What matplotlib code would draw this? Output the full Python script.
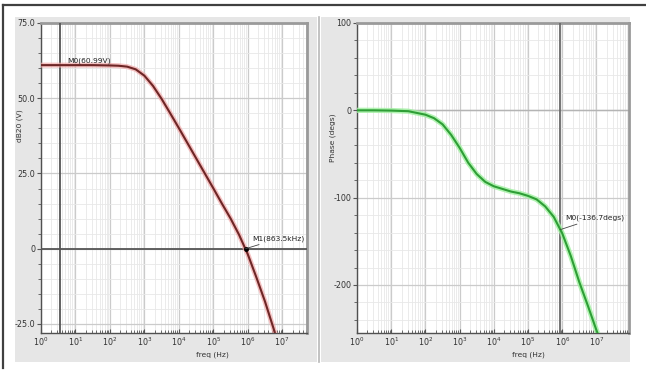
import numpy as np
import matplotlib
matplotlib.use("Agg")
import matplotlib.pyplot as plt
from matplotlib.patches import Rectangle
from matplotlib.lines import Line2D
from matplotlib.ticker import LogLocator, FixedLocator, FixedFormatter, NullFormatter

# --- data ---
gain_freq = [1, 3.16, 10, 31.6, 100, 178, 316, 562, 1000, 1780, 3160, 5620,
             1e4, 1.78e4, 3.16e4, 5.62e4, 1e5, 1.78e5, 3.16e5, 5.62e5,
             1e6, 1.78e6, 3.16e6, 5.62e6, 7.08e6]
gain_db = [61.0, 61.0, 61.0, 61.0, 60.9, 60.8, 60.5, 59.6, 57.5, 54.1, 49.8, 45.0,
           40.1, 35.1, 30.1, 25.1, 20.1, 15.0, 10.1, 4.6,
           -1.8, -9.5, -17.5, -26.5, -30.5]

phase_freq = [1, 3.16, 10, 31.6, 100, 178, 316, 562, 1000, 1780, 3160, 5620,
              1e4, 1.78e4, 3.16e4, 5.62e4, 1e5, 1.78e5, 3.16e5, 5.62e5,
              1e6, 1.78e6, 3.16e6, 5.62e6, 1e7, 1.26e7]
phase_deg = [0, 0, -0.3, -1, -5, -9, -16, -28, -43, -60, -73, -82,
             -87, -90, -93, -95, -98, -102, -110, -122,
             -141, -167, -197, -224, -252, -262]

m0_freq = 3.6
m0_gain = 60.99
m1_freq = 863.5e3
m1_gain = 0.0
pm_phase = -136.7

gain_ticks = [75, 50, 25, 0, -25]
gain_labels = ["75.0", "50.0", "25.0", "0", "-25.0"]
phase_ticks = [100, 0, -100, -200]
phase_labels = ["100", "0", "-100", "-200"]

W, H = 646, 374
fig = plt.figure(figsize=(W / 100, H / 100), dpi=100)
fig.patch.set_facecolor("white")


def px(x0, y0, x1, y1):
    # pixel box -> figure fraction [left, bottom, width, height]
    return [x0 / W, 1 - y1 / H, (x1 - x0) / W, (y1 - y0) / H]


# gray panels and frame (behind the axes)
for box in (px(15, 17, 317, 362), px(321, 17, 630, 362)):
    fig.patches.append(Rectangle((box[0], box[1]), box[2], box[3],
                                 transform=fig.transFigure, facecolor="#e6e6e6",
                                 edgecolor="none", zorder=-5))
fig.lines.append(Line2D([319 / W, 319 / W], [1 - 17 / H, 1 - 362 / H],
                        transform=fig.transFigure, color="#b8b8b8", lw=1.2, zorder=-4))
fig.lines.append(Line2D([3 / W, 1.0], [1 - 5 / H, 1 - 5 / H],
                        transform=fig.transFigure, color="#404040", lw=1.6, zorder=-4))
fig.lines.append(Line2D([3 / W, 3 / W], [1 - 5 / H, 1 - 368 / H],
                        transform=fig.transFigure, color="#404040", lw=1.6, zorder=-4))


def style_axes(ax, xmax, ticks, labels, minor_step):
    ax.set_facecolor("white")
    ax.set_xscale("log")
    ax.set_xlim(1, xmax)
    ax.xaxis.set_major_locator(LogLocator(base=10, numticks=20))
    ax.xaxis.set_minor_locator(LogLocator(base=10, subs=np.arange(2, 10), numticks=20))
    ax.xaxis.set_minor_formatter(NullFormatter())
    ax.yaxis.set_major_locator(FixedLocator(ticks))
    ax.yaxis.set_major_formatter(FixedFormatter(labels))
    ax.yaxis.set_minor_locator(matplotlib.ticker.MultipleLocator(minor_step))
    ax.grid(which="major", color="#cbcbcb", lw=0.9)
    ax.grid(which="minor", color="#e8e8e8", lw=0.6)
    ax.set_axisbelow(True)
    ax.tick_params(axis="x", which="both", direction="in", colors="#555555",
                   labelcolor="#333333", labelsize=5.8, pad=2)
    ax.tick_params(axis="x", which="major", length=3)
    ax.tick_params(axis="x", which="minor", length=2)
    ax.tick_params(axis="y", which="both", direction="out", colors="#555555",
                   labelcolor="#333333", labelsize=5.8, pad=1)
    ax.tick_params(axis="y", which="major", length=3)
    ax.tick_params(axis="y", which="minor", length=2)
    for s in ("top", "right"):
        ax.spines[s].set_color("#9a9a9a")
        ax.spines[s].set_linewidth(2)
    for s in ("left", "bottom"):
        ax.spines[s].set_color("#505050")
        ax.spines[s].set_linewidth(1)


# left: magnitude
ax1 = fig.add_axes(px(41, 23, 307, 333))
style_axes(ax1, 10 ** 7.72, gain_ticks, gain_labels, 5)
ax1.set_ylim(-28, 75)
ax1.axvline(m0_freq, color="#555555", lw=1.3, zorder=3)
ax1.axhline(m1_gain, color="#555555", lw=1.3, zorder=3)
ax1.plot(gain_freq, gain_db, color="#f2a8a8", lw=3.6, alpha=0.7, zorder=4)
ax1.plot(gain_freq, gain_db, color="#6e2626", lw=1.5, zorder=5)
ax1.plot([m1_freq], [m1_gain], "o", color="black", ms=2.5, zorder=6)
ax1.annotate("M0(60.99V)", xy=(m0_freq, m0_gain), xytext=(5, 1),
             textcoords="offset points", fontsize=5.4, color="#222222",
             va="bottom", zorder=7)
ax1.annotate("M1(863.5kHz)", xy=(m1_freq, m1_gain), xytext=(5, 5),
             textcoords="offset points", fontsize=5.4, color="#222222",
             va="bottom", zorder=7,
             arrowprops=dict(arrowstyle="-", color="#444444", lw=0.6,
                             shrinkA=0, shrinkB=0))

# right: phase
ax2 = fig.add_axes(px(357, 23, 629, 333))
style_axes(ax2, 10 ** 7.95, phase_ticks, phase_labels, 20)
ax2.set_ylim(-255, 100)
ax2.axhline(0, color="#b4b4b4", lw=1.0, zorder=2)
ax2.axvline(m1_freq, color="#6a6a6a", lw=1.3, zorder=3)
ax2.plot(phase_freq, phase_deg, color="#9ef09e", lw=3.8, alpha=0.8, zorder=4)
ax2.plot(phase_freq, phase_deg, color="#2e9e36", lw=1.5, zorder=5)
ax2.annotate("M0(-136.7degs)", xy=(m1_freq, pm_phase), xytext=(4, 6),
             textcoords="offset points", fontsize=5.4, color="#222222",
             va="bottom", zorder=7,
             arrowprops=dict(arrowstyle="-", color="#444444", lw=0.6,
                             shrinkA=0, shrinkB=0))

# axis titles
fig.text(20 / W, 1 - 126 / H, "dB20 (V)", rotation=90, ha="center", va="center",
         fontsize=5.4, color="#333333")
fig.text(333 / W, 1 - 138 / H, "Phase (degs)", rotation=90, ha="center", va="center",
         fontsize=5.4, color="#333333")
fig.text(212 / W, 1 - 355 / H, "freq (Hz)", ha="center", va="center",
         fontsize=5.4, color="#333333")
fig.text(528 / W, 1 - 355 / H, "freq (Hz)", ha="center", va="center",
         fontsize=5.4, color="#333333")

fig.savefig("out.png", dpi=100)
